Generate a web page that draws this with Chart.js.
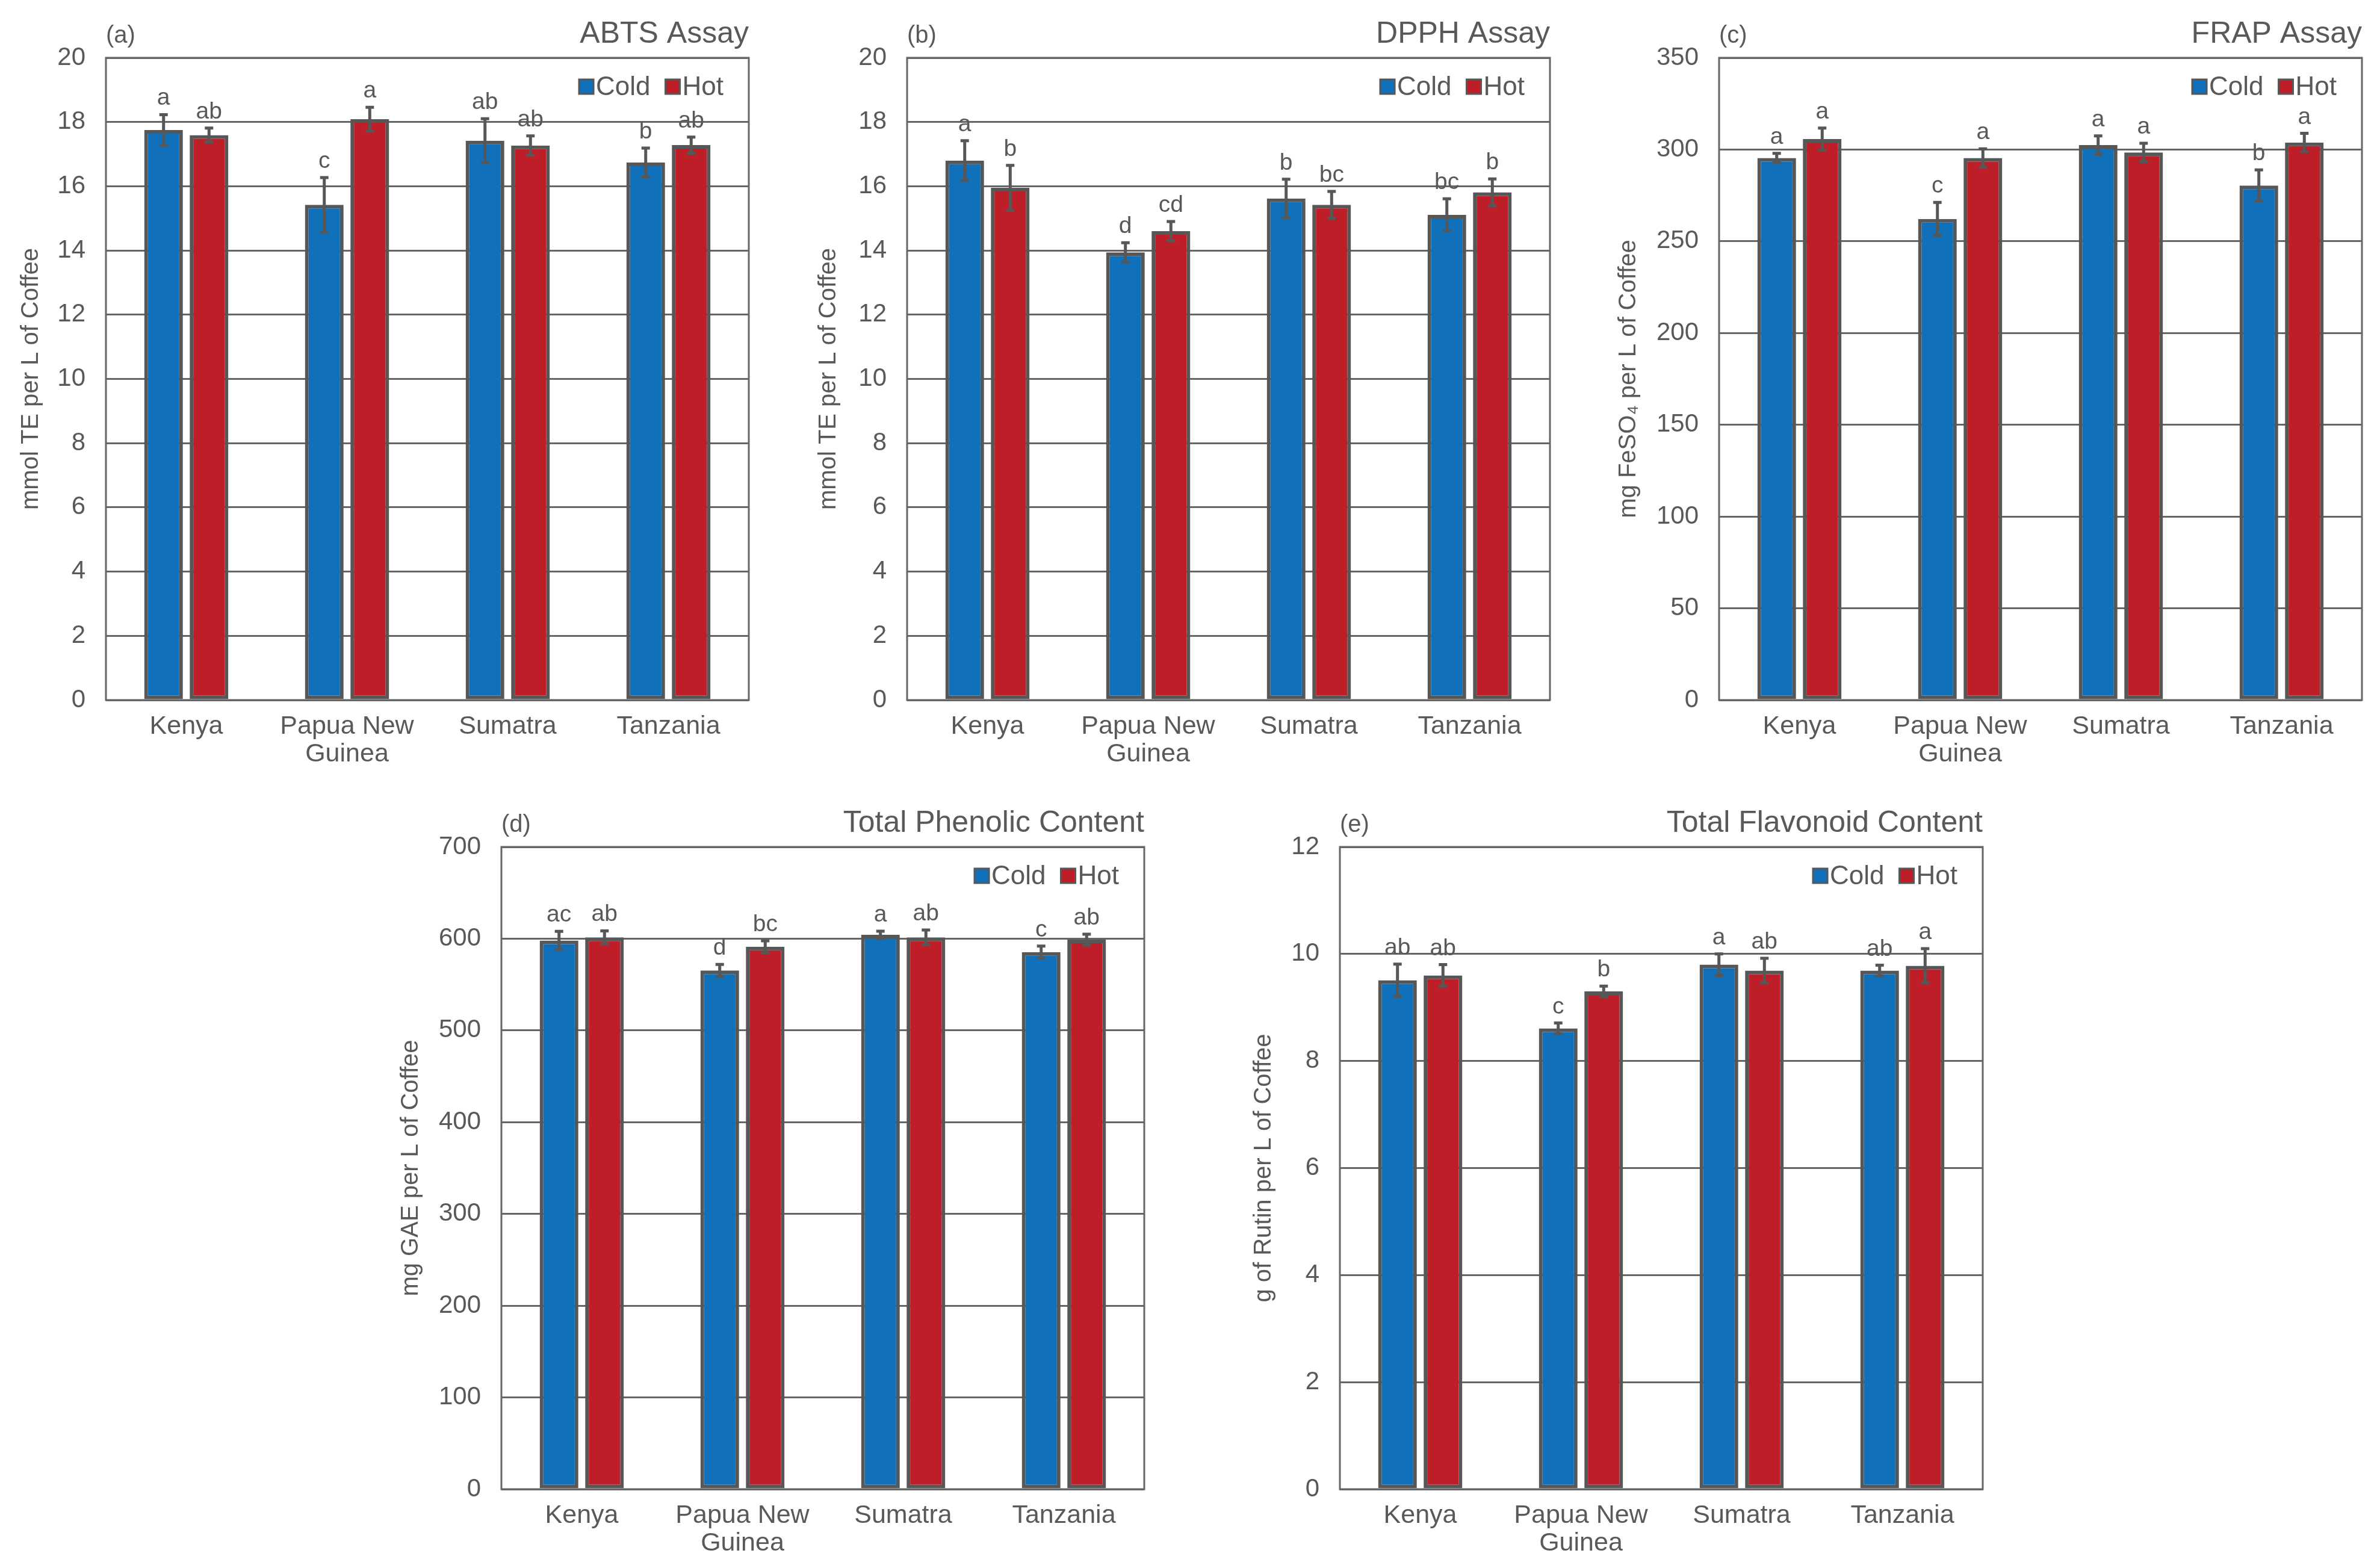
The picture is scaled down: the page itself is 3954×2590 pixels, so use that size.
<!DOCTYPE html>
<html>
<head>
<meta charset="utf-8">
<script src="https://cdn.jsdelivr.net/npm/chart.js@4.4.1/dist/chart.umd.min.js"></script>
<style>
  html, body { margin: 0; padding: 0; background: #fff; }
  body { width: 3954px; height: 2590px; position: relative; overflow: hidden; }
  canvas { position: absolute; }
</style>
</head>
<body>
<canvas id="panelA"></canvas>
<canvas id="panelB"></canvas>
<canvas id="panelC"></canvas>
<canvas id="panelD"></canvas>
<canvas id="panelE"></canvas>
<script>
/* ── Data ─────────────────────────────────────────────── */
const categories = ['Kenya', ['Papua New', 'Guinea'], 'Sumatra', 'Tanzania'];
const seriesNames = ['Cold', 'Hot'];

const abtsCold     = [17.75, 15.42, 17.42, 16.74];
const abtsHot      = [17.59, 18.09, 17.27, 17.28];
const abtsColdErr  = [0.48, 0.85, 0.68, 0.45];
const abtsHotErr   = [0.22, 0.37, 0.30, 0.25];
const abtsColdSig  = ['a', 'c', 'ab', 'b'];
const abtsHotSig   = ['ab', 'a', 'ab', 'ab'];

const dpphCold     = [16.80, 13.94, 15.62, 15.11];
const dpphHot      = [15.95, 14.60, 15.42, 15.81];
const dpphColdErr  = [0.62, 0.30, 0.60, 0.50];
const dpphHotErr   = [0.70, 0.30, 0.42, 0.42];
const dpphColdSig  = ['a', 'd', 'b', 'bc'];
const dpphHotSig   = ['b', 'cd', 'bc', 'b'];

const frapCold     = [295.4, 262.2, 302.4, 280.4];
const frapHot      = [305.7, 295.4, 298.4, 303.8];
const frapColdErr  = [2.5, 9, 5, 8.5];
const frapHotErr   = [6, 5, 5, 5];
const frapColdSig  = ['a', 'c', 'a', 'b'];
const frapHotSig   = ['a', 'a', 'a', 'a'];

const tpcCold      = [598, 565.4, 604.2, 585.4];
const tpcHot       = [601.5, 591.2, 601.5, 598.9];
const tpcColdErr   = [10, 6.5, 4, 6.5];
const tpcHotErr    = [7, 6.5, 8, 6];
const tpcColdSig   = ['ac', 'd', 'a', 'c'];
const tpcHotSig    = ['ab', 'bc', 'ab', 'ab'];

const tfcCold      = [9.51, 8.61, 9.80, 9.69];
const tfcHot       = [9.60, 9.30, 9.69, 9.78];
const tfcColdErr   = [0.30, 0.10, 0.20, 0.10];
const tfcHotErr    = [0.20, 0.10, 0.23, 0.32];
const tfcColdSig   = ['ab', 'c', 'a', 'ab'];
const tfcHotSig    = ['ab', 'b', 'ab', 'a'];

const panelTags   = ['(a)', '(b)', '(c)', '(d)', '(e)'];
const panelTitles = ['ABTS Assay', 'DPPH Assay', 'FRAP Assay', 'Total Phenolic Content', 'Total Flavonoid Content'];
const yTitles     = ['mmol TE per L of Coffee', 'mmol TE per L of Coffee', 'mg FeSO\u2084 per L of Coffee',
                     'mg GAE per L of Coffee', 'g of Rutin per L of Coffee'];
const yMax        = [20, 20, 350, 700, 12];
const yStep       = [2, 2, 50, 100, 2];

/* ── Style ────────────────────────────────────────────── */
const FONT = '"Liberation Sans", Arial, sans-serif';
const TEXT = '#595959';
const EDGE = '#575757';
const COLORS = ['#1070ba', '#be1e28'];
Chart.defaults.font.family = FONT;
Chart.defaults.color = TEXT;

// where each plot area sits on the page (left, top) and the y-title centre x
const layout = [
  { id: 'panelA', left: 176,  top: 96,   titleX: 52 },
  { id: 'panelB', left: 1507, top: 96,   titleX: 1377 },
  { id: 'panelC', left: 2856, top: 96,   titleX: 2706 },
  { id: 'panelD', left: 833,  top: 1407, titleX: 683 },
  { id: 'panelE', left: 2226, top: 1407, titleX: 2100 },
];
const PLOT_W = 1068, PLOT_H = 1067, AXIS_W = 200, TOP_M = 96, RIGHT_M = 60, AXIS_H = 150;

/* ── Error bars, letters, frame, legend, titles ───────── */
const decoPlugin = {
  id: 'deco',
  afterDatasetsDraw(chart, args, opts) {
    const { ctx, chartArea: a } = chart;
    const y = chart.scales.y;
    ctx.save();
    chart.data.datasets.forEach((ds, di) => {
      chart.getDatasetMeta(di).data.forEach((bar, i) => {
        const v = ds.data[i], e = opts.errors[di][i];
        const yt = y.getPixelForValue(v + e), yb = y.getPixelForValue(v - e);
        ctx.strokeStyle = EDGE;
        ctx.lineWidth = 5;
        ctx.beginPath();
        ctx.moveTo(bar.x, yt); ctx.lineTo(bar.x, yb);
        ctx.moveTo(bar.x - 7, yt); ctx.lineTo(bar.x + 7, yt);
        ctx.moveTo(bar.x - 7, yb); ctx.lineTo(bar.x + 7, yb);
        ctx.stroke();
        ctx.fillStyle = TEXT;
        ctx.font = '39px ' + FONT;
        ctx.textAlign = 'center';
        ctx.textBaseline = 'alphabetic';
        ctx.fillText(opts.letters[di][i], bar.x, yt - 16);
      });
    });

    // frame
    ctx.strokeStyle = '#666';
    ctx.lineWidth = 3;
    ctx.strokeRect(a.left, a.top, a.right - a.left, a.bottom - a.top);

    // legend, drawn right to left
    ctx.font = '44px ' + FONT;
    ctx.textAlign = 'left';
    ctx.textBaseline = 'middle';
    let x = a.right - 42;
    const ym = a.top + 48;
    for (let k = seriesNames.length - 1; k >= 0; k--) {
      const w = ctx.measureText(seriesNames[k]).width;
      x -= w;
      ctx.fillStyle = TEXT;
      ctx.fillText(seriesNames[k], x, ym + 2);
      x -= 28;
      ctx.fillStyle = COLORS[k];
      ctx.fillRect(x, ym - 12, 24, 24);
      ctx.strokeStyle = EDGE;
      ctx.lineWidth = 3;
      ctx.strokeRect(x, ym - 12, 24, 24);
      x -= 25;
    }

    // panel tag and title
    ctx.fillStyle = TEXT;
    ctx.textBaseline = 'alphabetic';
    ctx.font = '40px ' + FONT;
    ctx.textAlign = 'left';
    ctx.fillText(opts.tag, a.left, a.top - 25);
    ctx.font = '50px ' + FONT;
    ctx.textAlign = 'right';
    ctx.fillText(opts.title, a.right, a.top - 25);
    ctx.restore();
  }
};

/* ── Build panels ─────────────────────────────────────── */
const panelData = [
  [abtsCold, abtsHot, abtsColdErr, abtsHotErr, abtsColdSig, abtsHotSig],
  [dpphCold, dpphHot, dpphColdErr, dpphHotErr, dpphColdSig, dpphHotSig],
  [frapCold, frapHot, frapColdErr, frapHotErr, frapColdSig, frapHotSig],
  [tpcCold,  tpcHot,  tpcColdErr,  tpcHotErr,  tpcColdSig,  tpcHotSig],
  [tfcCold,  tfcHot,  tfcColdErr,  tfcHotErr,  tfcColdSig,  tfcHotSig],
];

layout.forEach((p, n) => {
  const [cold, hot, coldErr, hotErr, coldSig, hotSig] = panelData[n];
  const cv = document.getElementById(p.id);
  const W = AXIS_W + PLOT_W + RIGHT_M, H = TOP_M + PLOT_H + AXIS_H;
  cv.width = W; cv.height = H;
  cv.style.width = W + 'px'; cv.style.height = H + 'px';
  cv.style.left = (p.left - AXIS_W) + 'px';
  cv.style.top = (p.top - TOP_M) + 'px';
  const titlePad = AXIS_W - (p.left - p.titleX) - 24;

  new Chart(cv.getContext('2d'), {
    type: 'bar',
    data: {
      labels: categories,
      datasets: [cold, hot].map((d, k) => ({
        label: seriesNames[k],
        data: d,
        backgroundColor: COLORS[k],
        borderColor: EDGE,
        borderWidth: 6,
        borderSkipped: false,
        categoryPercentage: 0.566,
        barPercentage: 0.85,
      }))
    },
    options: {
      responsive: false,
      animation: false,
      devicePixelRatio: 1,
      layout: { padding: { left: 0, top: TOP_M, right: RIGHT_M, bottom: 0 } },
      plugins: {
        legend: { display: false },
        tooltip: { enabled: false },
        deco: {
          errors: [coldErr, hotErr],
          letters: [coldSig, hotSig],
          tag: panelTags[n],
          title: panelTitles[n],
        },
      },
      scales: {
        x: {
          grid: { display: false, drawTicks: false },
          border: { display: false },
          ticks: { color: TEXT, padding: 22, font: { size: 43, lineHeight: 1.05 }, maxRotation: 0, autoSkip: false },
          afterFit: s => { s.height = AXIS_H; },
        },
        y: {
          min: 0, max: yMax[n],
          grid: { color: '#666', lineWidth: 3, drawTicks: false },
          border: { display: false },
          ticks: { stepSize: yStep[n], color: TEXT, padding: 34, font: { size: 42 } },
          title: { display: true, text: yTitles[n], color: TEXT, font: { size: 40, lineHeight: 1.2 },
                   padding: { top: titlePad, bottom: 0 } },
          afterFit: s => { s.width = AXIS_W; },
        }
      }
    },
    plugins: [decoPlugin]
  });
});
</script>
</body>
</html>
